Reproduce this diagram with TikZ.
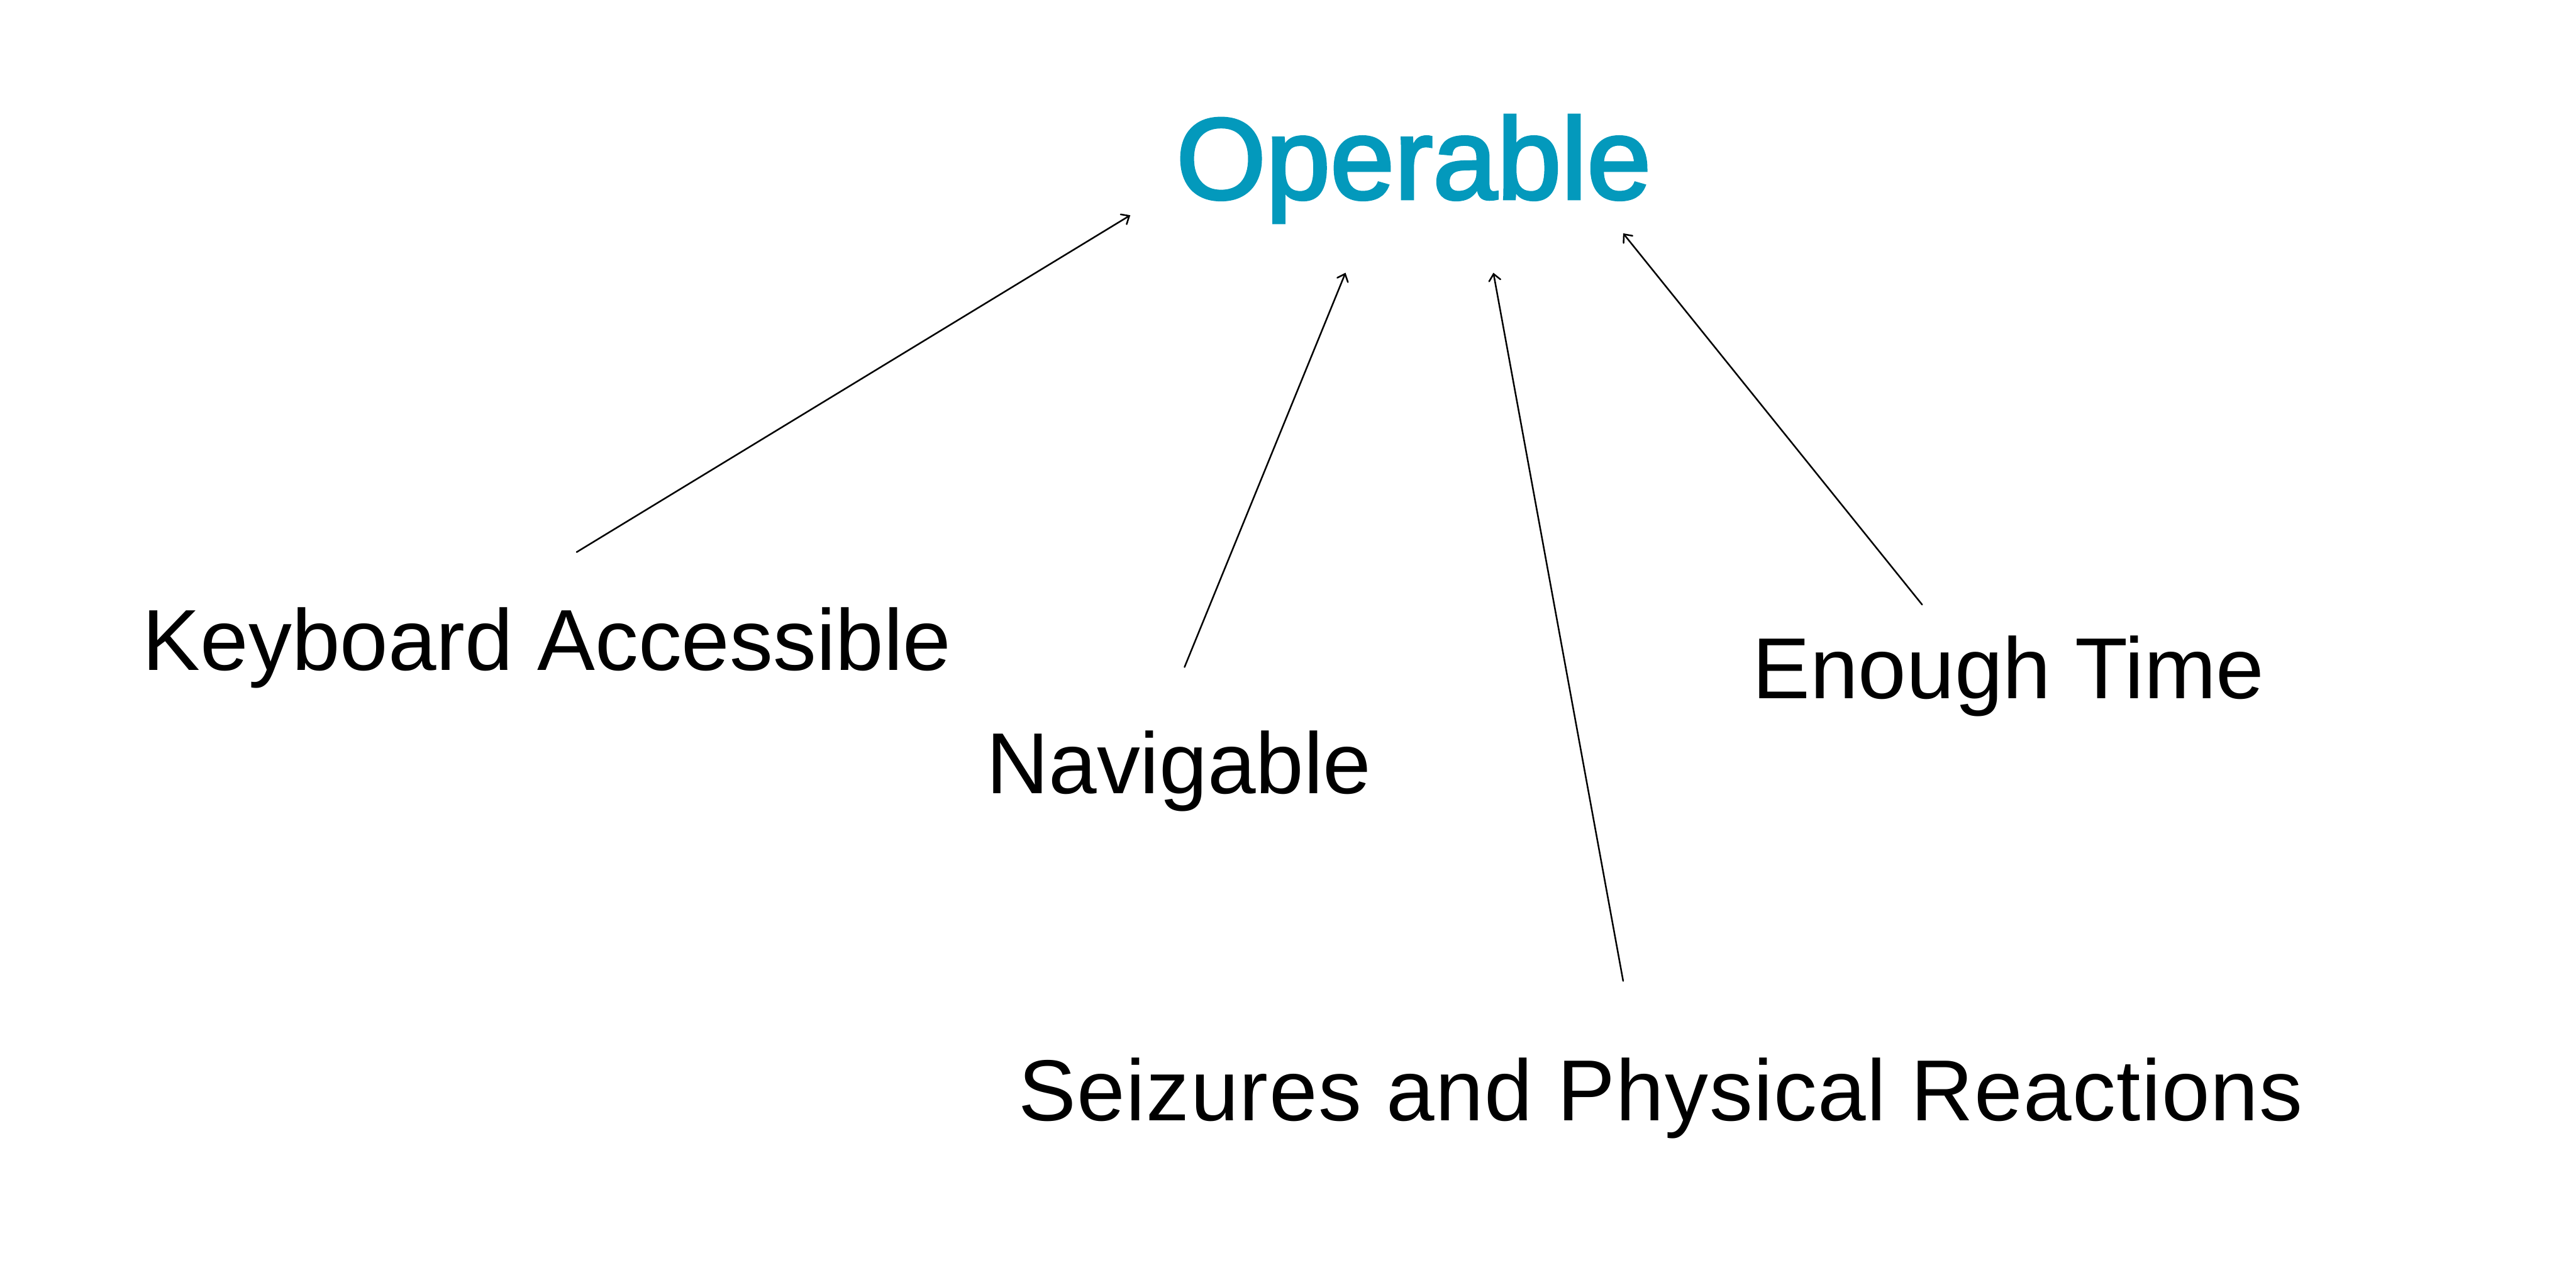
\documentclass[tikz,border=0pt]{standalone}
\usepackage{fontspec}
\setmainfont{Liberation Sans}
\newfontfamily\titlefont[FakeBold=2.5]{Liberation Sans}
\usetikzlibrary{arrows.meta}
\definecolor{opblue}{HTML}{0399BC}
\begin{document}
\begin{tikzpicture}[x=0.02cm,y=-0.02cm,
  label/.style={inner sep=0pt, anchor=base, font=\fontsize{30}{36}\selectfont},
  titlelabel/.style={inner sep=0pt, anchor=base, text=opblue, font=\titlefont\fontsize{40}{48}\selectfont},
  conn/.style={-{Straight Barb[length=0.8mm,width=1.4mm,line cap=round]}, line width=0.55pt, line cap=round}]
\useasboundingbox (0,0) rectangle (1568,783);
\node[titlelabel] (op) at (860.5,121) {Operable};
\node[label] (kb) at (333,408) {Keyboard Accessible};
\node[label] (nav) at (717.5,483) {Navigable};
\node[label] (et) at (1222.5,425) {Enough Time};
\node[label] (sz) at (1011,682) {\addfontfeature{LetterSpace=1}Seizures and Physical Reactions};
\coordinate (kbt) at (351,336);
\coordinate (kbh) at (688,131);
\coordinate (navt) at (721,406);
\coordinate (navh) at (819,166);
\coordinate (szt) at (988,597);
\coordinate (szh) at (909,166);
\coordinate (ett) at (1170,368);
\coordinate (eth) at (988,142);
\draw[conn] (kbt) -- (kbh);
\draw[conn] (navt) -- (navh);
\draw[conn] (szt) -- (szh);
\draw[conn] (ett) -- (eth);
\end{tikzpicture}
\end{document}
